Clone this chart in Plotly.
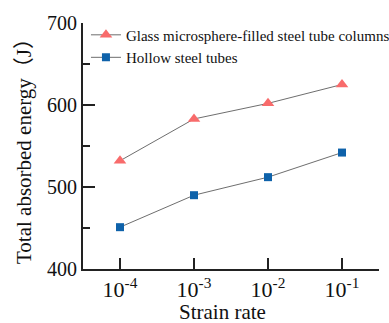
import plotly.graph_objects as go

strain_rates = ["10<sup>-4</sup>", "10<sup>-3</sup>", "10<sup>-2</sup>", "10<sup>-1</sup>"]
filled_energy = [532, 583, 602, 625]
hollow_energy = [451, 490, 512, 542]
y_ticks = [400, 500, 600, 700]

serif = "Liberation Serif, Times New Roman, Noto Sans CJK SC, serif"
xpos = list(range(len(strain_rates)))

fig = go.Figure()
fig.add_trace(go.Scatter(
    x=xpos, y=filled_energy, mode="lines+markers",
    name="Glass microsphere-filled steel tube columns",
    line=dict(color="#6e6e6e", width=1),
    marker=dict(symbol="triangle-up", size=11, color="#F86B6B"),
))
fig.add_trace(go.Scatter(
    x=xpos, y=hollow_energy, mode="lines+markers",
    name="Hollow steel tubes",
    line=dict(color="#6e6e6e", width=1),
    marker=dict(symbol="square", size=8, color="#0E62AA"),
))

fig.update_layout(
    width=389, height=323,
    margin=dict(l=83, r=10, t=23, b=54, autoexpand=False),
    paper_bgcolor="white", plot_bgcolor="white",
    font=dict(family=serif, color="#111111"),
    showlegend=True,
    legend=dict(
        x=0.01, y=1.018, xanchor="left", yanchor="top",
        bgcolor="rgba(0,0,0,0)", font=dict(size=15, family=serif),
        itemwidth=30, tracegroupgap=0,
    ),
    xaxis=dict(
        range=[-0.5, 3.5], tickmode="array", tickvals=xpos, ticktext=strain_rates,
        showline=True, linecolor="#222", linewidth=2, ticks="inside", ticklen=11,
        tickwidth=2, tickcolor="#222", showgrid=False, zeroline=False,
        tickfont=dict(size=22, family=serif), tickangle=0, automargin=False,
    ),
    yaxis=dict(
        range=[400, 700], tickvals=y_ticks, automargin=False,
        showline=True, linecolor="#222", linewidth=2, ticks="inside", ticklen=12,
        tickwidth=2, tickcolor="#222", showgrid=False, zeroline=False,
        tickfont=dict(size=20, family=serif),
        minor=dict(tickvals=[450, 550, 650], ticks="inside", ticklen=7, tickwidth=2, tickcolor="#222"),
        title=dict(text="Total absorbed energy（J）", font=dict(size=21, family=serif), standoff=10),
    ),
    annotations=[dict(
        text="Strain rate", xref="paper", yref="paper", x=0.47, y=-0.175,
        xanchor="center", yanchor="middle", showarrow=False,
        font=dict(size=21, family=serif, color="#111111"),
    )],
)

fig.write_html("out.html")
